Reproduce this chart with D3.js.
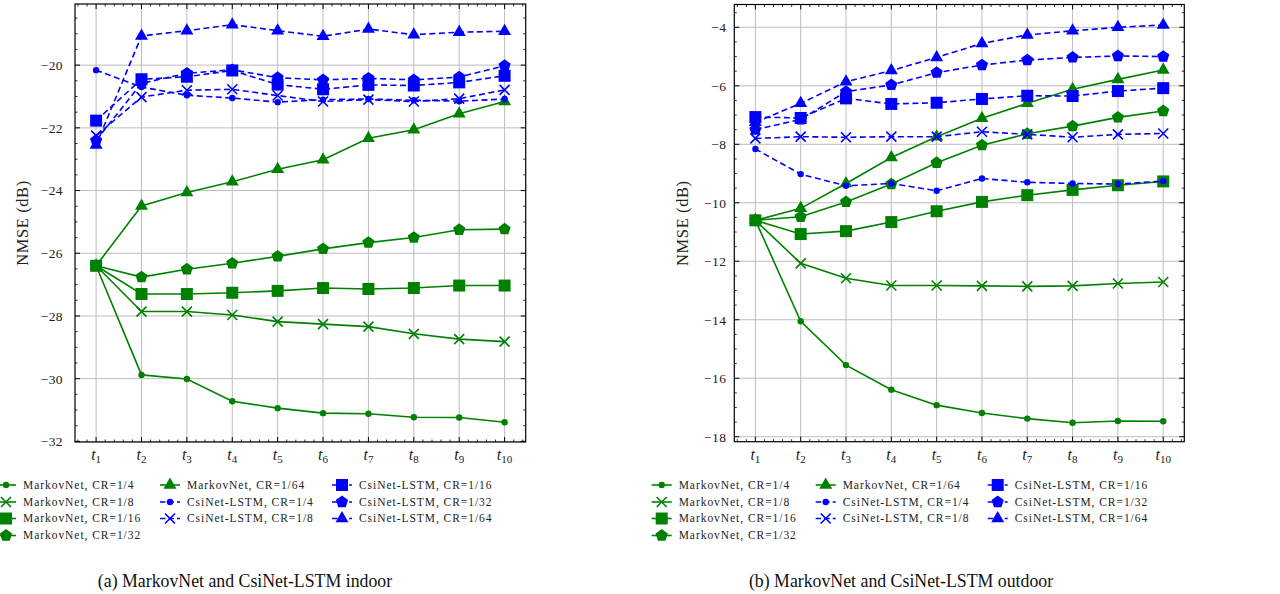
<!DOCTYPE html>
<html>
<head>
<meta charset="utf-8">
<script src="https://cdn.jsdelivr.net/npm/d3@7"></script>
<style>
  body { margin: 0; background: #fff; }
  svg { display: block; }
</style>
</head>
<body>
<svg id="fig" width="1280" height="594"></svg>
<script>
// Time slots t1..t10
const steps = [1, 2, 3, 4, 5, 6, 7, 8, 9, 10];
const stepLabels = ["1", "2", "3", "4", "5", "6", "7", "8", "9", "10"];
const ratios = ["1/4", "1/8", "1/16", "1/32", "1/64"];

// Indoor NMSE (dB)
const indoorMarkov_4  = [-26.40, -29.88, -30.01, -30.72, -30.94, -31.10, -31.12, -31.23, -31.24, -31.39];
const indoorMarkov_8  = [-26.40, -27.86, -27.86, -27.97, -28.18, -28.26, -28.34, -28.57, -28.74, -28.82];
const indoorMarkov_16 = [-26.40, -27.30, -27.30, -27.26, -27.20, -27.11, -27.14, -27.11, -27.03, -27.03];
const indoorMarkov_32 = [-26.40, -26.76, -26.51, -26.32, -26.10, -25.86, -25.66, -25.50, -25.25, -25.23];
const indoorMarkov_64 = [-26.40, -24.49, -24.06, -23.72, -23.32, -23.02, -22.33, -22.06, -21.55, -21.16];
const indoorCsi_4  = [-20.16, -20.70, -20.96, -21.05, -21.18, -21.10, -21.08, -21.12, -21.15, -21.08];
const indoorCsi_8  = [-22.25, -21.02, -20.80, -20.77, -20.97, -21.16, -21.10, -21.16, -21.07, -20.79];
const indoorCsi_16 = [-21.77, -20.45, -20.37, -20.17, -20.62, -20.77, -20.63, -20.65, -20.55, -20.34];
const indoorCsi_32 = [-22.40, -20.58, -20.26, -20.15, -20.40, -20.47, -20.42, -20.47, -20.38, -20.02];
const indoorCsi_64 = [-22.55, -19.07, -18.90, -18.71, -18.90, -19.08, -18.85, -19.03, -18.95, -18.92];

// Outdoor NMSE (dB)
const outdoorMarkov_4  = [-10.60, -14.05, -15.55, -16.39, -16.92, -17.19, -17.38, -17.52, -17.46, -17.47];
const outdoorMarkov_8  = [-10.60, -12.07, -12.58, -12.83, -12.83, -12.84, -12.86, -12.84, -12.76, -12.71];
const outdoorMarkov_16 = [-10.60, -11.07, -10.97, -10.66, -10.29, -9.97, -9.74, -9.56, -9.40, -9.27];
const outdoorMarkov_32 = [-10.60, -10.48, -9.97, -9.36, -8.63, -8.03, -7.64, -7.38, -7.08, -6.86];
const outdoorMarkov_64 = [-10.60, -10.19, -9.34, -8.45, -7.74, -7.11, -6.60, -6.12, -5.78, -5.46];
const outdoorCsi_4  = [-8.16, -9.02, -9.42, -9.34, -9.59, -9.17, -9.30, -9.34, -9.36, -9.26];
const outdoorCsi_8  = [-7.80, -7.74, -7.76, -7.74, -7.74, -7.57, -7.66, -7.76, -7.66, -7.63];
const outdoorCsi_16 = [-7.07, -7.10, -6.43, -6.62, -6.58, -6.45, -6.34, -6.35, -6.18, -6.08];
const outdoorCsi_32 = [-7.50, -7.15, -6.20, -5.97, -5.55, -5.29, -5.12, -5.03, -4.98, -5.00];
const outdoorCsi_64 = [-7.25, -6.60, -5.86, -5.48, -5.03, -4.55, -4.26, -4.12, -4.00, -3.92];

// y-axis tick values
const indoorTicks = [-32, -30, -28, -26, -24, -22, -20];
const outdoorTicks = [-18, -16, -14, -12, -10, -8, -6, -4];

const captions = ["(a) MarkovNet and CsiNet-LSTM indoor", "(b) MarkovNet and CsiNet-LSTM outdoor"];

const GREEN = "#008000";
const BLUE = "#0000ff";
const shapes = ["circle", "cross", "square", "pentagon", "triangle"];

function makeSeries(markov, csi) {
  const out = [];
  markov.forEach((vals, i) => out.push({ name: "MarkovNet, CR=" + ratios[i], values: vals, color: GREEN, dashed: false, shape: shapes[i] }));
  csi.forEach((vals, i) => out.push({ name: "CsiNet-LSTM, CR=" + ratios[i], values: vals, color: BLUE, dashed: true, shape: shapes[i] }));
  return out;
}

const indoorSeries = makeSeries(
  [indoorMarkov_4, indoorMarkov_8, indoorMarkov_16, indoorMarkov_32, indoorMarkov_64],
  [indoorCsi_4, indoorCsi_8, indoorCsi_16, indoorCsi_32, indoorCsi_64]);
const outdoorSeries = makeSeries(
  [outdoorMarkov_4, outdoorMarkov_8, outdoorMarkov_16, outdoorMarkov_32, outdoorMarkov_64],
  [outdoorCsi_4, outdoorCsi_8, outdoorCsi_16, outdoorCsi_32, outdoorCsi_64]);

const SERIF = "'Liberation Serif', 'Times New Roman', serif";

function pentagonPath(r) {
  const pts = d3.range(5).map(k => {
    const a = -Math.PI / 2 + k * 2 * Math.PI / 5;
    return [r * Math.cos(a), r * Math.sin(a)];
  });
  return "M" + pts.map(p => p[0].toFixed(2) + "," + p[1].toFixed(2)).join("L") + "Z";
}

function drawMarker(g, shape, color, x, y) {
  if (shape === "circle") {
    g.append("circle").attr("cx", x).attr("cy", y).attr("r", 3.2).attr("fill", color);
  } else if (shape === "cross") {
    g.append("path").attr("transform", `translate(${x},${y})`)
      .attr("d", "M-5,-5L5,5M-5,5L5,-5")
      .attr("stroke", color).attr("stroke-width", 1.6).attr("fill", "none");
  } else if (shape === "square") {
    g.append("path").attr("transform", `translate(${x},${y})`)
      .attr("d", "M-6,-6h12v12h-12Z").attr("fill", color);
  } else if (shape === "triangle") {
    g.append("path").attr("transform", `translate(${x},${y})`)
      .attr("d", "M0,-7.5L6.5,3.76L-6.5,3.76Z").attr("fill", color);
  } else if (shape === "pentagon") {
    g.append("path").attr("transform", `translate(${x},${y})`)
      .attr("d", pentagonPath(6.4)).attr("fill", color);
  }
}

const svg = d3.select("#fig");

function drawPanel(opt) {
  const { left, right, top, bottom, yDomain, ticks, series, labelGap, ylabelX } = opt;
  const g = svg.append("g");
  const x = d3.scaleLinear().domain([0.535, 10.465]).range([left, right]);
  const y = d3.scaleLinear().domain(yDomain).range([bottom, top]);

  // grid
  const grid = g.append("g").attr("stroke", "#bdbdbd").attr("stroke-width", 1);
  steps.forEach(s => grid.append("line").attr("x1", x(s)).attr("x2", x(s)).attr("y1", top).attr("y2", bottom));
  ticks.forEach(t => grid.append("line").attr("x1", left).attr("x2", right).attr("y1", y(t)).attr("y2", y(t)));

  // series
  const line = d3.line().x((d, i) => x(steps[i])).y(d => y(d));
  series.forEach(s => {
    g.append("path").attr("d", line(s.values)).attr("fill", "none")
      .attr("stroke", s.color).attr("stroke-width", 1.6)
      .attr("stroke-dasharray", s.dashed ? "6,3.5" : null);
    const mg = g.append("g");
    s.values.forEach((v, i) => drawMarker(mg, s.shape, s.color, x(steps[i]), y(v)));
  });

  // frame and inward ticks on all sides
  const ax = g.append("g").attr("stroke", "#000");
  const minorX = d3.range(0.6, 10.45, 0.2).filter(v => Math.abs(v - Math.round(v)) > 0.01);
  const minorY = d3.range(Math.ceil(yDomain[0] * 2) / 2, yDomain[1], 0.5).filter(v => Math.abs(v / 2 - Math.round(v / 2)) > 0.01);
  steps.forEach(s => {
    ax.append("line").attr("x1", x(s)).attr("x2", x(s)).attr("y1", bottom).attr("y2", bottom - 5).attr("stroke-width", 1);
    ax.append("line").attr("x1", x(s)).attr("x2", x(s)).attr("y1", top).attr("y2", top + 5).attr("stroke-width", 1);
  });
  minorX.forEach(s => {
    ax.append("line").attr("x1", x(s)).attr("x2", x(s)).attr("y1", bottom).attr("y2", bottom - 2.5).attr("stroke-width", 0.8);
    ax.append("line").attr("x1", x(s)).attr("x2", x(s)).attr("y1", top).attr("y2", top + 2.5).attr("stroke-width", 0.8);
  });
  ticks.forEach(t => {
    ax.append("line").attr("x1", left).attr("x2", left + 5).attr("y1", y(t)).attr("y2", y(t)).attr("stroke-width", 1);
    ax.append("line").attr("x1", right).attr("x2", right - 5).attr("y1", y(t)).attr("y2", y(t)).attr("stroke-width", 1);
  });
  minorY.forEach(t => {
    ax.append("line").attr("x1", left).attr("x2", left + 2.5).attr("y1", y(t)).attr("y2", y(t)).attr("stroke-width", 0.8);
    ax.append("line").attr("x1", right).attr("x2", right - 2.5).attr("y1", y(t)).attr("y2", y(t)).attr("stroke-width", 0.8);
  });
  g.append("rect").attr("x", left).attr("y", top).attr("width", right - left).attr("height", bottom - top)
    .attr("fill", "none").attr("stroke", "#000").attr("stroke-width", 1.2);

  // y tick labels
  const fmt = d3.format("d");
  ticks.forEach(t => {
    g.append("text").attr("x", left - labelGap).attr("y", y(t)).attr("dy", "0.36em")
      .attr("text-anchor", "end").attr("font-family", SERIF).attr("font-size", 13.5)
      .attr("letter-spacing", 0.4).attr("fill", "#222").text(fmt(t));
  });

  // x tick labels t_k
  steps.forEach((s, i) => {
    const tx = g.append("text").attr("x", x(s)).attr("y", bottom + 18)
      .attr("text-anchor", "middle").attr("font-family", SERIF).attr("fill", "#222");
    tx.append("tspan").attr("font-style", "italic").attr("font-size", 16).text("t");
    tx.append("tspan").attr("font-size", 11).attr("dy", 3).text(stepLabels[i]);
  });

  // y-axis title
  const cy = (top + bottom) / 2;
  g.append("text").attr("transform", `translate(${ylabelX},${cy}) rotate(-90)`)
    .attr("text-anchor", "middle").attr("dy", "0.35em")
    .attr("font-family", SERIF).attr("font-size", 16.5).attr("letter-spacing", 0.6)
    .attr("fill", "#222").text("NMSE (dB)");

  // legend: three columns
  const lg = g.append("g");
  const cols = [opt.legendX, opt.legendX + 164, opt.legendX + 336];
  const rows = [485, 502, 518.5, 535.5];
  const order = [[0, 1, 2, 3], [4, 5, 6], [7, 8, 9]];
  order.forEach((idxs, c) => {
    idxs.forEach((si, r) => {
      const s = series[si];
      const x0 = cols[c], yy = rows[r];
      lg.append("line").attr("x1", x0).attr("x2", x0 + 20).attr("y1", yy).attr("y2", yy)
        .attr("stroke", s.color).attr("stroke-width", 1.6)
        .attr("stroke-dasharray", s.dashed ? "5.5,3" : null);
      drawMarker(lg, s.shape, s.color, x0 + 10, yy);
      lg.append("text").attr("x", x0 + 27).attr("y", yy).attr("dy", "0.34em")
        .attr("font-family", SERIF).attr("font-size", 11.5).attr("letter-spacing", 0.95)
        .attr("fill", "#222").text(s.name);
    });
  });

  // caption
  g.append("text").attr("x", opt.captionX).attr("y", 587).attr("text-anchor", "middle")
    .attr("font-family", SERIF).attr("font-size", 17.8).attr("fill", "#111").text(opt.caption);
}

drawPanel({
  left: 75, right: 525.7, top: 4, bottom: 442,
  yDomain: [-32.02, -18.05], ticks: indoorTicks, series: indoorSeries,
  labelGap: 12, ylabelX: 22.5, legendX: -4, captionX: 245, caption: captions[0]
});
drawPanel({
  left: 734.3, right: 1184.3, top: 4.5, bottom: 441.7,
  yDomain: [-18.17, -3.22], ticks: outdoorTicks, series: outdoorSeries,
  labelGap: 8, ylabelX: 682.5, legendX: 651.7, captionX: 901, caption: captions[1]
});
</script>
</body>
</html>
